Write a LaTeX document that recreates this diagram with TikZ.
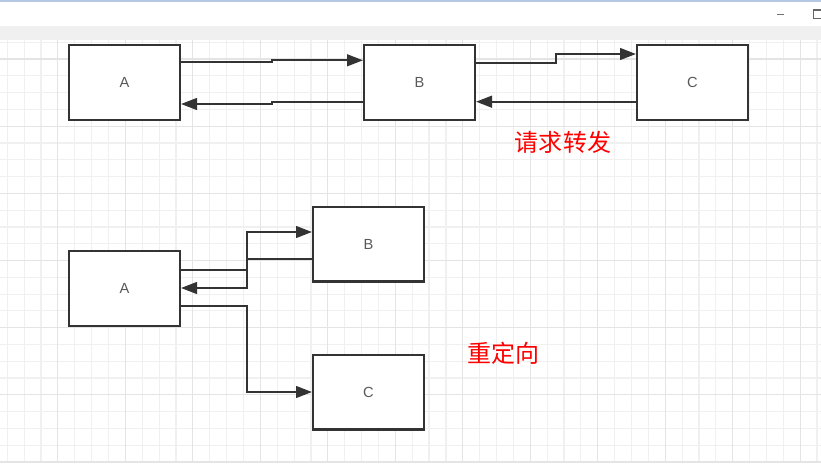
\documentclass[tikz,border=0pt]{standalone}
\usepackage{fontspec}
\setsansfont{Liberation Sans}
\newfontfamily\cjk{Noto Sans CJK SC}
\usepackage{tikz}
\usetikzlibrary{arrows.meta}
\usepackage{xcolor}
\definecolor{gridminor}{HTML}{F0F0F0}
\definecolor{gridmajor}{HTML}{E4E4E4}
\definecolor{linegray}{HTML}{333333}
\definecolor{chrome}{HTML}{F0F0F0}
\definecolor{topline}{HTML}{B4C8E4}

\begin{document}
\begin{tikzpicture}[x=0.3mm,y=-0.3mm,
  box/.style={rectangle, draw=linegray, line width=0.7mm, fill=white, minimum width=33.2mm, minimum height=22.4mm, inner sep=0pt, text=black!65, font=\sffamily\fontsize{12.5}{14}\selectfont},
  conn/.style={draw=linegray, line width=0.7mm, ->},
  note/.style={text=red, inner sep=0pt, font=\cjk\fontsize{20.5}{24}\selectfont},
  >={Triangle[length=4.8mm,width=3.5mm]}]
\useasboundingbox (0,0) rectangle (821,468);
\fill[white] (0,0) rectangle (821,468);
\fill[topline] (0,0) rectangle (821,2.5);
\fill[chrome] (0,26.5) rectangle (821,40);
\draw[black!55, line width=0.3mm] (777,14.3) -- (784.3,14.3);
\draw[black!60, line width=0.35mm] (813.5,10) rectangle (830,18.3);

\foreach \k in {0,...,48}
  \draw[gridminor, line width=0.35mm] (7.3+16.87*\k,40) -- (7.3+16.87*\k,461);
\foreach \j in {0,...,25}
  \draw[gridminor, line width=0.35mm] (0,42.26+16.79*\j) -- (821,42.26+16.79*\j);
\foreach \k in {3,7,...,47}
  \draw[gridmajor, line width=0.35mm] (7.3+16.87*\k,40) -- (7.3+16.87*\k,461);
\foreach \j in {1,5,...,25}
  \draw[gridmajor, line width=0.35mm] (0,42.26+16.79*\j) -- (821,42.26+16.79*\j);

\node (a1) [box] at (124.5,82.5) {A};
\node (b1) [box] at (419.5,82.5) {B};
\node (c1) [box] at (692.5,82.5) {C};
\draw[conn] (a1.east |- 0,61.7) -- (271.7,61.7) -- (271.7,60.3) -- (b1.west |- 0,60.3);
\draw[conn] (b1.west |- 0,101.7) -- (272,101.7) -- (272,104) -- (a1.east |- 0,104);
\draw[conn] (b1.east |- 0,62.7) -- (555.7,62.7) -- (555.7,54) -- (c1.west |- 0,54);
\draw[conn] (c1.west |- 0,101.7) -- (b1.east |- 0,101.7);
\node (fwd) [note] at (563,142.3) {请求转发};

\node (a2) [box] at (124.5,288.5) {A};
\node (b2) [box] at (368.5,244) {B};
\node (c2) [box] at (368.5,392) {C};
\draw[conn] (a2.east |- 0,270) -| (247,232) -- (b2.west |- 0,232);
\draw[conn] (b2.west |- 0,259) -| (247,288) -- (a2.east |- 0,288);
\draw[conn] (a2.east |- 0,306) -| (247,392) -- (c2.west);
\node (redir) [note] at (503.7,353.7) {重定向};
\end{tikzpicture}
\end{document}
